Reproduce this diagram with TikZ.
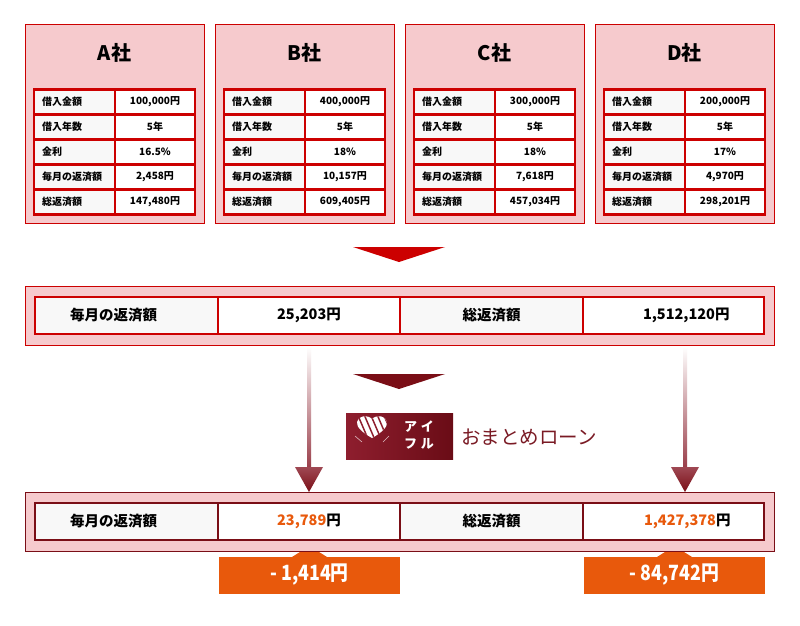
\documentclass[tikz,border=0pt]{standalone}
\usepackage{fontspec}
\setmainfont{Noto Sans CJK JP}
\usetikzlibrary{calc}
\definecolor{pinkbg}{HTML}{F6CACD}
\definecolor{redc}{HTML}{CC0000}
\definecolor{darkred}{HTML}{7A0E16}
\definecolor{cellgray}{HTML}{F8F8F8}
\definecolor{orangec}{HTML}{E8590C}
\definecolor{arrowc}{HTML}{8E2835}
\definecolor{logoL}{HTML}{8E1E2E}
\definecolor{logoR}{HTML}{6A0C16}
\definecolor{textred}{HTML}{7A1A24}
\newcommand\company[8]{%
  \node[panel, anchor=north west, minimum width=179pt, minimum height=199pt] (#2) at (#1,24) {};
  \node[ctitle] (#2-t) at ({#1+89.5},53) {#3};
  \node[cellL] (#2-l1) at ({#1+49.5},102) {借入金額};
  \node[cellR] (#2-r1) at ({#1+130},102) {#4};
  \node[cellL] (#2-l2) at ({#1+49.5},127) {借入年数};
  \node[cellR] (#2-r2) at ({#1+130},127) {#5};
  \node[cellL] (#2-l3) at ({#1+49.5},152) {金利};
  \node[cellR] (#2-r3) at ({#1+130},152) {#6};
  \node[cellL] (#2-l4) at ({#1+49.5},177) {毎月の返済額};
  \node[cellR] (#2-r4) at ({#1+130},177) {#7};
  \node[cellL] (#2-l5) at ({#1+49.5},202) {総返済額};
  \node[cellR] (#2-r5) at ({#1+130},202) {#8};
}
\begin{document}
\begin{tikzpicture}[x=1pt,y=-1pt,
  panel/.style={draw=redc, line width=1pt, fill=pinkbg, inner sep=0pt},
  ctitle/.style={font=\fontsize{20}{24}\selectfont\bfseries, inner sep=0pt},
  cellL/.style={draw=redc, line width=2.5pt, fill=cellgray, minimum height=25pt, text width=65pt, inner xsep=8pt, inner ysep=0pt, align=left, font=\fontsize{10}{12}\selectfont\bfseries},
  cellR/.style={draw=redc, line width=2.5pt, fill=white, minimum height=25pt, minimum width=80pt, inner sep=0pt, font=\fontsize{10}{12}\selectfont\bfseries},
  mcell/.style={line width=1.5pt, minimum height=37pt, inner sep=0pt, font=\fontsize{14.5}{17}\selectfont\bfseries},
  obox/.style={fill=orangec, minimum width=181pt, minimum height=37pt, inner sep=0pt, text=white, font=\fontsize{21}{24}\selectfont\bfseries}
]
\useasboundingbox[fill=white] (0,0) rectangle (800,625);

% company panels
\company{25}{A}{A社}{100,000円}{5年}{16.5\%}{2,458円}{147,480円}
\company{215}{B}{B社}{400,000円}{5年}{18\%}{10,157円}{609,405円}
\company{405}{C}{C社}{300,000円}{5年}{18\%}{7,618円}{457,034円}
\company{595}{D}{D社}{200,000円}{5年}{17\%}{4,970円}{298,201円}

% red chevron
\coordinate (ch1) at (399,262);
\fill[redc] (353,247) -- (445,247) -- (ch1) -- cycle;

% middle panel
\node[panel, anchor=north west, minimum width=749pt, minimum height=59pt] (mid) at (25,286) {};
\node[mcell, draw=redc, fill=cellgray, minimum width=183pt, text width=163pt, inner xsep=10pt, align=left] (m1) at (126.5,315.5) {\hspace*{25pt}毎月の返済額};
\node[mcell, draw=redc, fill=white, minimum width=182pt] (m2) at (309,315.5) {25,203円};
\node[mcell, draw=redc, fill=cellgray, minimum width=183pt] (m3) at (491.5,315.5) {総返済額};
\node[mcell, draw=redc, fill=white, minimum width=181pt, text width=161pt, inner xsep=10pt, align=left] (m4) at (673.5,315.5) {\hspace*{50pt}1,512,120円};

% dark chevron
\coordinate (ch2) at (399,389);
\fill[darkred] (353,374) -- (445,374) -- (ch2) -- cycle;

% logo
\node[minimum width=107pt, minimum height=46pt, inner sep=0pt, left color=logoL, right color=logoR] (logo) at (399.5,436) {};
\begin{scope}
\clip (372,438) .. controls (363,433) and (356,427) .. (357,422) .. controls (358,416) and (367,414) .. (372,419) .. controls (377,414) and (386,416) .. (387,422) .. controls (388,427) and (381,433) .. (372,438) -- cycle;
\fill[white] (355,412) rectangle (390,440);
\foreach \i in {0,...,5} \draw[logoL, line width=1.5pt] ({350+\i*6.5},412) -- ({362+\i*6.5},440);
\end{scope}
\draw[white!70!logoL, line width=0.6pt] (355,436) -- (362,442);
\draw[white!70!logoL, line width=0.6pt] (383,442) -- (389,436);
\node[text=white, font=\fontsize{13}{14}\selectfont\bfseries, inner sep=0pt] (logo-a) at (419,426.5) {ア\hspace{4pt}イ};
\node[text=white, font=\fontsize{13}{14}\selectfont\bfseries, inner sep=0pt] (logo-b) at (419,443.5) {フ\hspace{4pt}ル};
\node[text=textred, font=\fontsize{19.5}{22}\selectfont, anchor=west, inner sep=0pt] (omatome) at (461,437) {おまとめローン};

% orange result boxes (triangles behind bottom panel)
\fill[orangec] (292,557) -- (327,557) -- (309.5,546) -- cycle;
\fill[orangec] (657,557) -- (692,557) -- (674.5,546) -- cycle;
\node[obox] (o1) at (309.5,575) {\scalebox{0.85}[1]{- 1,414円}};
\node[obox] (o2) at (674.5,575) {\scalebox{0.85}[1]{- 84,742円}};

% bottom panel
\node[panel, draw=darkred, anchor=north west, minimum width=749pt, minimum height=59pt] (bot) at (25,492) {};
\node[mcell, draw=darkred, fill=cellgray, minimum width=183pt, text width=163pt, inner xsep=10pt, align=left] (b1) at (126.5,521.5) {\hspace*{25pt}毎月の返済額};
\node[mcell, draw=darkred, fill=white, minimum width=182pt] (b2) at (309,521.5) {{\color{orangec}23,789}円};
\node[mcell, draw=darkred, fill=cellgray, minimum width=183pt] (b3) at (491.5,521.5) {総返済額};
\node[mcell, draw=darkred, fill=white, minimum width=181pt, text width=161pt, inner xsep=10pt, align=left] (b4) at (673.5,521.5) {\hspace*{51pt}{\color{orangec}1,427,378}円};

% vertical gradient arrows
\coordinate (la-top) at (309,347);
\coordinate (la-tip) at (309,492);
\coordinate (ra-top) at (685,347);
\coordinate (ra-tip) at (685,492);
\foreach \a in {la,ra}{
  \shade[top color=white, bottom color=arrowc!90] ($(\a-top)+(-2,0)$) rectangle ($(\a-tip)+(2,-24)$);
  \shade[top color=arrowc!85, bottom color=darkred] ($(\a-tip)+(-14,-25)$) -- ($(\a-tip)+(14,-25)$) -- (\a-tip) -- cycle;
}
\end{tikzpicture}
\end{document}
